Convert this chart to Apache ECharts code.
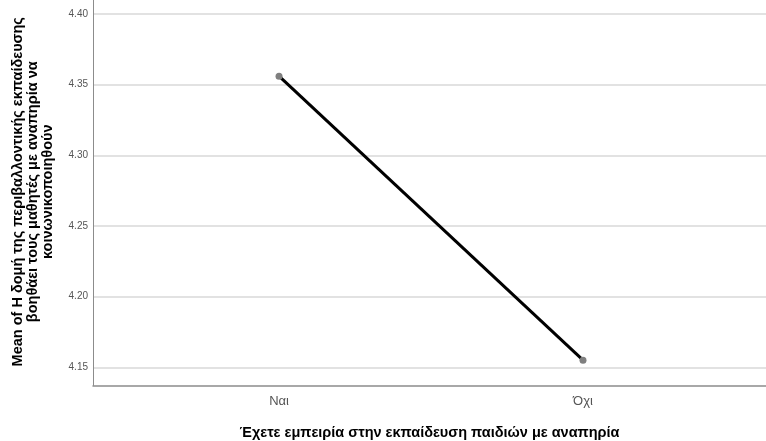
<!DOCTYPE html>
<html>
<head>
<meta charset="utf-8">
<script src="https://cdn.jsdelivr.net/npm/echarts@6/dist/echarts.min.js"></script>
<style>
html,body{margin:0;padding:0;background:#fff;}
#c{width:766px;height:441px;}
</style>
</head>
<body>
<div id="c"></div>
<script>
const categories = ['Ναι', 'Όχι'];
const means = [4.356, 4.155];
const yTicks = [4.15, 4.20, 4.25, 4.30, 4.35, 4.40];
const xTitle = 'Έχετε εμπειρία στην εκπαίδευση παιδιών με αναπηρία';
const yTitle = 'Mean of Η δομή της περιβαλλοντικής εκπαίδευσης\nβοηθάει τους μαθητές με αναπηρία να\nκοινωνικοποιηθούν';

const chart = echarts.init(document.getElementById('c'), null, {renderer: 'canvas'});
const font = '"Liberation Sans", Arial, sans-serif';
chart.setOption({
  backgroundColor: '#ffffff',
  animation: false,
  grid: {left: 93, right: 0, top: -2, bottom: 55.5, containLabel: false, outerBoundsMode: 'none'},
  xAxis: {
    type: 'value',
    min: -0.612,
    max: 1.602,
    name: xTitle,
    nameLocation: 'middle',
    nameGap: 40,
    nameTextStyle: {fontFamily: font, fontSize: 14.5, fontWeight: 'bold', color: '#000'},
    axisLine: {show: true, onZero: false, lineStyle: {color: '#8c8c8c', width: 1.5}},
    axisTick: {show: false},
    splitLine: {show: false},
    axisLabel: {
      customValues: categories.map((c, i) => i),
      formatter: v => categories[Math.round(v)] ?? '',
      fontFamily: font, fontSize: 13, color: '#555', margin: 9
    }
  },
  yAxis: {
    type: 'value',
    min: 4.1371,
    max: 4.4113,
    name: yTitle,
    nameLocation: 'middle',
    nameGap: 60,
    nameRotate: 90,
    nameTextStyle: {fontFamily: font, fontSize: 14.5, fontWeight: 'bold', color: '#000', lineHeight: 15, align: 'center', verticalAlign: 'middle'},
    axisLine: {show: true, onZero: false, lineStyle: {color: '#8c8c8c', width: 1}},
    axisTick: {show: false, customValues: yTicks},
    splitLine: {show: true, lineStyle: {color: '#d9d9d9', width: 1.5}},
    axisLabel: {
      customValues: yTicks,
      formatter: v => v.toFixed(2),
      fontFamily: font, fontSize: 10, color: '#555', margin: 5
    }
  },
  series: [{
    type: 'line',
    data: categories.map((c, i) => [i, means[i]]),
    lineStyle: {color: '#000', width: 3},
    symbol: 'circle',
    symbolSize: 7,
    itemStyle: {color: '#7f7f7f'},
    z: 3
  }]
});
</script>
</body>
</html>
